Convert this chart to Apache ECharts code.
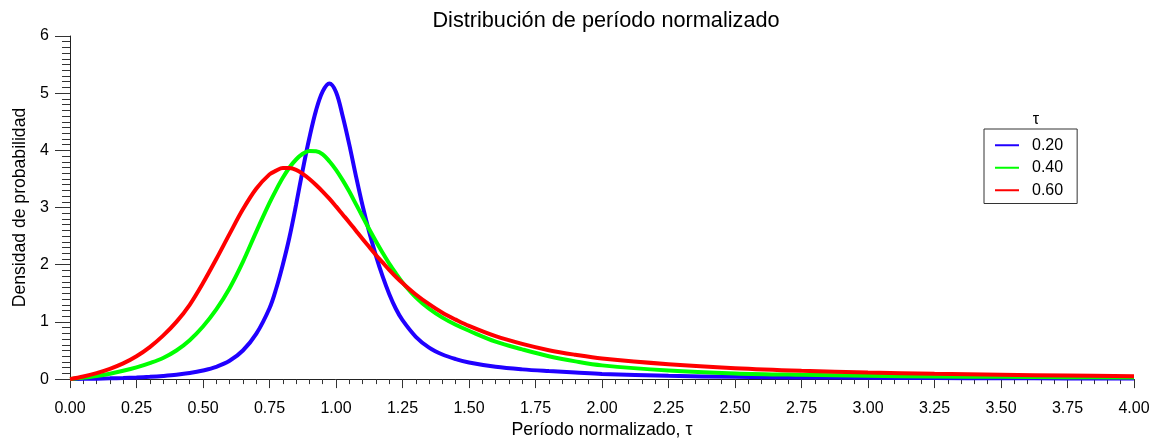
<!DOCTYPE html>
<html>
<head>
<meta charset="utf-8">
<script src="https://cdn.jsdelivr.net/npm/echarts@6/dist/echarts.min.js"></script>
<style>
  html, body { margin: 0; padding: 0; background: #fff; }
  #chart { width: 1169px; height: 444px; }
</style>
</head>
<body>
<div id="chart"></div>
<script>
// Normalized period values (x) shared by all curves; finer steps around the peaks
const tau = [
  0, 0.05, 0.1, 0.15, 0.2, 0.25, 0.3, 0.35, 0.4, 0.45, 0.5, 0.55, 0.6, 0.65, 0.7,
  0.75, 0.775, 0.8, 0.825, 0.85, 0.875, 0.9, 0.925, 0.95, 0.975, 1.0, 1.025, 1.05, 1.075, 1.1,
  1.125, 1.15, 1.175, 1.2, 1.225, 1.25,
  1.3, 1.35, 1.4, 1.45, 1.5,
  1.6, 1.7, 1.8, 1.9, 2.0,
  2.25, 2.5, 2.75, 3.0, 3.25, 3.5, 3.75, 4.0
];

// Probability density, parameter 0.20
const dens020 = [
  0, 0.004, 0.008, 0.013, 0.02, 0.029, 0.04, 0.055, 0.075, 0.105, 0.15, 0.215, 0.32, 0.50, 0.79,
  1.24, 1.58, 2.00, 2.48, 3.05, 3.66, 4.22, 4.70, 5.03, 5.17, 5.02, 4.60, 4.10, 3.55, 3.03,
  2.57, 2.16, 1.80, 1.49, 1.23, 1.03,
  0.74, 0.55, 0.43, 0.35, 0.29,
  0.215, 0.17, 0.14, 0.115, 0.09,
  0.058, 0.04, 0.03, 0.023, 0.018, 0.015, 0.012, 0.01
];

// Probability density, parameter 0.40
const dens040 = [
  0, 0.025, 0.055, 0.095, 0.145, 0.205, 0.28, 0.37, 0.50, 0.68, 0.92, 1.22, 1.59, 2.05, 2.575,
  3.08, 3.31, 3.52, 3.70, 3.84, 3.94, 3.99, 3.985, 3.93, 3.81, 3.66, 3.48, 3.28, 3.06, 2.84,
  2.62, 2.41, 2.21, 2.02, 1.85, 1.69,
  1.43, 1.23, 1.075, 0.95, 0.845,
  0.655, 0.52, 0.40, 0.31, 0.24,
  0.15, 0.10, 0.075, 0.058, 0.047, 0.039, 0.033, 0.028
];

// Probability density, parameter 0.60
const dens060 = [
  0, 0.045, 0.105, 0.18, 0.275, 0.40, 0.56, 0.76, 1.00, 1.30, 1.68, 2.10, 2.54, 2.97, 3.33,
  3.58, 3.645, 3.69, 3.69, 3.66, 3.59, 3.50, 3.395, 3.28, 3.155, 3.02, 2.88, 2.74, 2.595, 2.45,
  2.31, 2.17, 2.04, 1.91, 1.79, 1.68,
  1.48, 1.31, 1.16, 1.04, 0.93,
  0.75, 0.615, 0.505, 0.425, 0.36,
  0.26, 0.19, 0.145, 0.115, 0.092, 0.075, 0.061, 0.05
];

const seriesNames = ['0.20', '0.40', '0.60'];
const seriesColors = ['#2000ff', '#00ff00', '#ff0000'];
const seriesValues = [dens020, dens040, dens060];

const FONT = 'Liberation Sans, Arial, Helvetica, sans-serif';

const chart = echarts.init(document.getElementById('chart'), null, { renderer: 'canvas' });

chart.setOption({
  animation: false,
  backgroundColor: '#ffffff',
  title: [
    {
      text: 'Distribución de período normalizado',
      left: 601, top: 5, textAlign: 'center',
      textStyle: { fontFamily: FONT, fontWeight: 'normal', fontSize: 21.7, color: '#000' }
    },
    {
      text: 'τ',
      left: 1031, top: 107, textAlign: 'center',
      textStyle: { fontFamily: FONT, fontWeight: 'normal', fontSize: 16, color: '#000' }
    }
  ],
  legend: {
    orient: 'vertical',
    left: 984, top: 129,
    padding: [8, 14, 5, 11],
    borderColor: '#333', borderWidth: 1,
    icon: 'rect',
    itemWidth: 24, itemHeight: 2, itemGap: 6,
    textStyle: { fontFamily: FONT, fontSize: 16, lineHeight: 16.5, color: '#000', padding: [0, 0, 0, 8] },
    data: seriesNames
  },
  grid: { left: 70, right: 35, top: 36, bottom: 60, containLabel: false },
  xAxis: {
    type: 'value', min: 0, max: 4, interval: 0.25,
    name: 'Período normalizado, τ', nameLocation: 'middle', nameGap: 41,
    nameTextStyle: { fontFamily: FONT, fontSize: 17.8, color: '#000' },
    axisLine: { show: true, onZero: false, lineStyle: { color: '#222', width: 1 } },
    axisTick: { show: true, inside: false, length: 9, lineStyle: { color: '#333' } },
    minorTick: { show: true, splitNumber: 5, length: 5, lineStyle: { color: '#333' } },
    splitLine: { show: false },
    axisLabel: {
      margin: 21, fontFamily: FONT, fontSize: 16, color: '#000',
      formatter: v => v.toFixed(2)
    }
  },
  yAxis: {
    type: 'value', min: 0, max: 6, interval: 1,
    name: 'Densidad de probabilidad', nameLocation: 'middle', nameGap: 41, nameRotate: 90,
    nameTextStyle: { fontFamily: FONT, fontSize: 17.6, color: '#000' },
    axisLine: { show: true, lineStyle: { color: '#222', width: 1 } },
    axisTick: { show: true, inside: false, length: 15, lineStyle: { color: '#333' } },
    minorTick: { show: true, splitNumber: 10, length: 8, lineStyle: { color: '#333' } },
    splitLine: { show: false },
    axisLabel: { margin: 21, fontFamily: FONT, fontSize: 16, color: '#000' }
  },
  series: seriesNames.map((name, i) => ({
    name: name,
    type: 'line',
    data: tau.map((t, j) => [t, seriesValues[i][j]]),
    smooth: 0.35,
    symbol: 'none',
    lineStyle: { color: seriesColors[i], width: 4 },
    itemStyle: { color: seriesColors[i] },
    z: 3 + i
  }))
});
</script>
</body>
</html>
